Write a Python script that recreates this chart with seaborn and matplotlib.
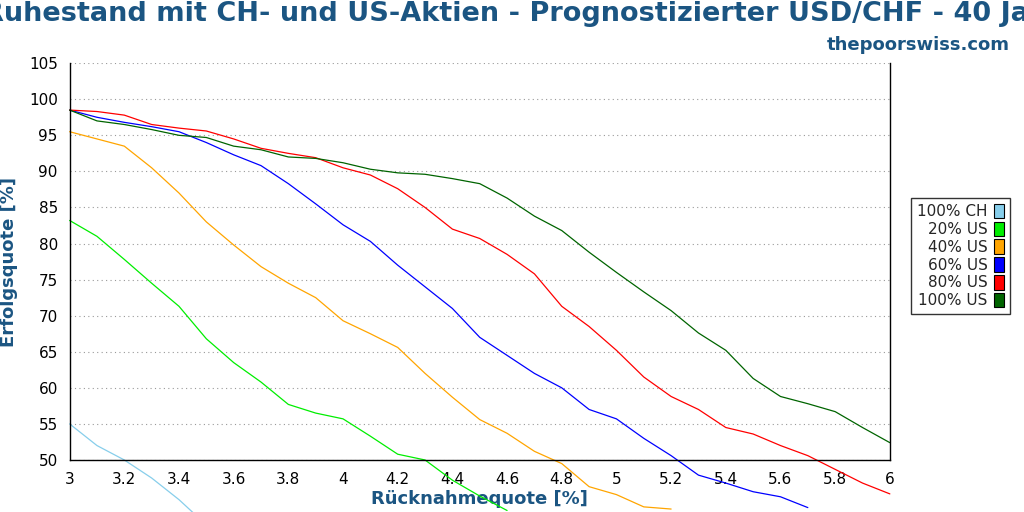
import matplotlib
matplotlib.use("Agg")
import matplotlib.pyplot as plt
import seaborn as sns
import pandas as pd
from matplotlib.patches import Patch

rates = [round(3 + 0.1 * i, 1) for i in range(31)]

ch100 = [55, 52, 50, 47.5, 44.5, 41]
us20 = [83.2, 81, 77.8, 74.5, 71.3, 66.8, 63.5, 60.8, 57.7, 56.5, 55.7, 53.3, 50.8, 50,
        47.2, 45, 43]
us40 = [95.5, 94.5, 93.5, 90.5, 87, 83, 79.8, 76.8, 74.5, 72.5, 69.3, 67.5, 65.6, 62,
        58.7, 55.6, 53.7, 51.2, 49.5, 46.3, 45.2, 43.5, 43.2]
us60 = [98.5, 97.5, 96.8, 96.2, 95.5, 94, 92.3, 90.8, 88.3, 85.5, 82.6, 80.3, 77, 74,
        71, 67, 64.5, 62, 60, 57, 55.7, 53, 50.6, 47.9, 46.8, 45.6, 44.9, 43.4]
us80 = [98.5, 98.3, 97.8, 96.5, 96, 95.6, 94.5, 93.2, 92.5, 91.9, 90.5, 89.5, 87.6, 85,
        82, 80.7, 78.5, 75.8, 71.3, 68.5, 65.2, 61.5, 58.8, 57, 54.5, 53.6, 52, 50.6,
        48.7, 46.8, 45.3]
us100 = [98.5, 97, 96.5, 95.8, 95, 94.7, 93.5, 93, 92, 91.8, 91.2, 90.3, 89.8, 89.6,
         89, 88.3, 86.3, 83.8, 81.8, 78.8, 76, 73.3, 70.7, 67.6, 65.2, 61.3, 58.8, 57.8,
         56.7, 54.5, 52.4]

series = [("100% CH", ch100, "#87ceeb"), ("20% US", us20, "#00ee00"),
          ("40% US", us40, "#ffa500"), ("60% US", us60, "#0000ff"),
          ("80% US", us80, "#ff0000"), ("100% US", us100, "#006400")]

rows = []
for name, vals, _ in series:
    for r, v in zip(rates, vals):
        rows.append({"rate": r, "quote": v, "mix": name})
df = pd.DataFrame(rows)

sns.set_style("white")
plt.rcParams['font.family'] = ['DejaVu Sans']
fig = plt.figure(figsize=(10.24, 5.12), dpi=100)
ax = fig.add_axes([0.068, 0.1016, 0.801, 0.775])

palette = {n: c for n, _, c in series}
sns.lineplot(data=df, x="rate", y="quote", hue="mix", palette=palette, linewidth=0.9,
             ax=ax, legend=False)
# the reference lets the lines run on below the axis
for line in ax.get_lines():
    line.set_clip_on(False)

ax.set_xlim(3, 6)
ax.set_ylim(50, 105)
ax.set_xticks([3, 3.2, 3.4, 3.6, 3.8, 4, 4.2, 4.4, 4.6, 4.8, 5, 5.2, 5.4, 5.6, 5.8, 6])
ax.set_xticklabels(["3", "3.2", "3.4", "3.6", "3.8", "4", "4.2", "4.4", "4.6", "4.8",
                    "5", "5.2", "5.4", "5.6", "5.8", "6"])
ax.set_yticks(range(50, 106, 5))
ax.tick_params(direction="out", length=5, labelsize=11, colors="black")
ax.yaxis.grid(True, linestyle=(0, (1, 3)), color="#999999", linewidth=0.8)
ax.spines["top"].set_visible(False)
for s in ["left", "bottom", "right"]:
    ax.spines[s].set_color("black")
    ax.spines[s].set_linewidth(1)

title_col = "#1b5582"
ax.set_xlabel("Rücknahmequote [%]", fontsize=13, fontweight="bold", color=title_col, labelpad=2)
ax.set_ylabel("Erfolgsquote [%]", fontsize=13, fontweight="bold", color=title_col, labelpad=8)

fig.text(-0.017, 0.998, "Ruhestand mit CH- und US-Aktien - Prognostizierter USD/CHF - 40 Jahre",
         fontsize=19.5, fontweight="bold", color=title_col, ha="left", va="top")
fig.text(0.986, 0.913, "thepoorswiss.com", fontsize=13, fontweight="bold",
         color=title_col, ha="right", va="center")

handles = [Patch(facecolor=c, edgecolor="black", linewidth=0.8, label=n) for n, _, c in series]
leg = fig.legend(handles=handles, loc="center left", bbox_to_anchor=(0.882, 0.5),
                 markerfirst=False, fontsize=11, frameon=True, fancybox=False,
                 handlelength=0.7, handleheight=1.1, handletextpad=0.4,
                 labelspacing=0.15, borderpad=0.4)
leg.get_frame().set_edgecolor("black")
for t in leg.get_texts():
    t.set_ha("right")

fig.savefig("out.png", dpi=100)
